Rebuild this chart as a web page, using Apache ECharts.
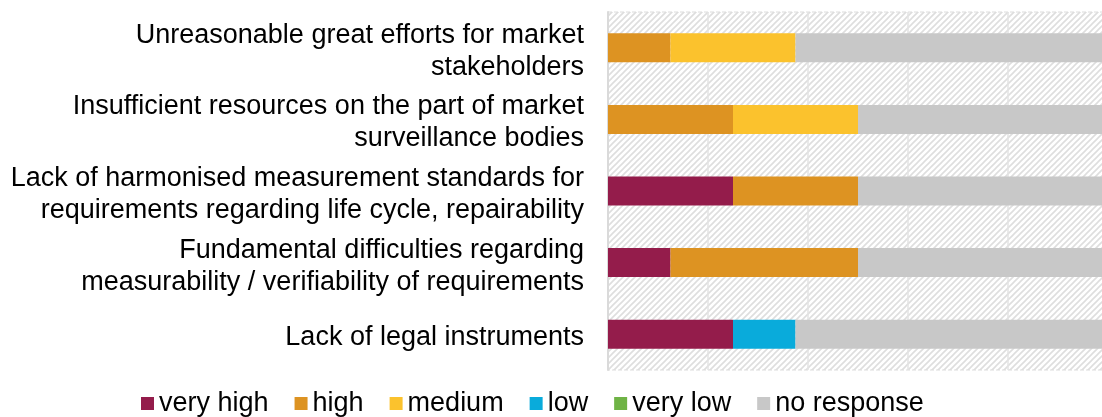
<!DOCTYPE html>
<html>
<head>
<meta charset="utf-8">
<script src="https://cdn.jsdelivr.net/npm/echarts@6/dist/echarts.min.js"></script>
<style>
  html, body { margin: 0; padding: 0; background: #fff; }
  #chart { width: 1102px; height: 417px; }
</style>
</head>
<body>
<div id="chart"></div>
<script>
// categories, top to bottom
const categories = [
  'Unreasonable great efforts for market\nstakeholders',
  'Insufficient resources on the part of market\nsurveillance bodies',
  'Lack of harmonised measurement standards for\nrequirements regarding life cycle, repairability',
  'Fundamental difficulties regarding\nmeasurability / verifiability of requirements',
  'Lack of legal instruments',
];

// share of answers in %
const veryHigh = [0, 0, 25, 12.5, 25];
const high = [12.5, 25, 25, 37.5, 0];
const medium = [25, 25, 0, 0, 0];
const low = [0, 0, 0, 0, 12.5];
const veryLow = [0, 0, 0, 0, 0];
const noResponse = [62.5, 50, 50, 50, 62.5];

const seriesNames = ['very high', 'high', 'medium', 'low', 'very low', 'no response'];
const seriesColors = ['#941c4b', '#dd9322', '#fbc22d', '#09abdb', '#6fb345', '#c8c8c8'];
const seriesData = [veryHigh, high, medium, low, veryLow, noResponse];

// hatched background for the plot area
function makeHatch() {
  const c = document.createElement('canvas');
  c.width = 6;
  c.height = 6;
  const ctx = c.getContext('2d');
  ctx.fillStyle = '#ffffff';
  ctx.fillRect(0, 0, 6, 6);
  ctx.strokeStyle = '#dedede';
  ctx.lineWidth = 1.6;
  ctx.beginPath();
  ctx.moveTo(-1, 7); ctx.lineTo(7, -1);
  ctx.moveTo(-4, 4); ctx.lineTo(4, -4);
  ctx.moveTo(2, 10); ctx.lineTo(10, 2);
  ctx.stroke();
  return c;
}

const chart = echarts.init(document.getElementById('chart'));

const option = {
  animation: false,
  textStyle: { fontFamily: 'Liberation Sans, Arial, sans-serif' },
  grid: {
    left: 608,
    width: 500, // the plot runs a little past the right edge, as in the source
    top: 12,
    bottom: 47,
    outerBoundsMode: 'none',
    show: true,
    backgroundColor: { image: makeHatch(), repeat: 'repeat' },
    borderColor: '#dcdcdc',
    borderWidth: 1,
    borderType: 'dashed',
  },
  legend: {
    left: 136,
    top: 385,
    itemWidth: 13,
    itemHeight: 13,
    itemGap: 26,
    icon: 'rect',
    textStyle: { fontSize: 27, color: '#000' },
    data: seriesNames,
  },
  xAxis: {
    type: 'value',
    min: 0,
    max: 100,
    interval: 20,
    axisLabel: { show: false },
    axisLine: { show: false },
    axisTick: { show: false },
    splitLine: { lineStyle: { color: '#e3e3e3', width: 1.5 } },
  },
  yAxis: {
    type: 'category',
    inverse: true,
    data: categories,
    axisLine: { show: true, lineStyle: { color: '#dadada', width: 2 } },
    axisTick: { show: false },
    axisLabel: {
      interval: 0,
      hideOverlap: false,
      margin: 24,
      color: '#000',
      align: 'right',
      verticalAlign: 'middle',
      // a thin empty first line pushes the text block down a few pixels
      formatter: (value) => '{s| }\n' + value.split('\n').map(l => '{t|' + l + '}').join('\n'),
      rich: {
        s: { fontSize: 1, lineHeight: 7 },
        t: { fontSize: 27, lineHeight: 32, color: '#000', align: 'right' },
      },
    },
  },
  series: seriesNames.map((name, i) => ({
    name: name,
    type: 'bar',
    stack: 'total',
    barWidth: 29,
    data: seriesData[i],
    itemStyle: { color: seriesColors[i] },
  })),
};

chart.setOption(option);
window.addEventListener('resize', () => {
  chart.resize();
});
</script>
</body>
</html>
